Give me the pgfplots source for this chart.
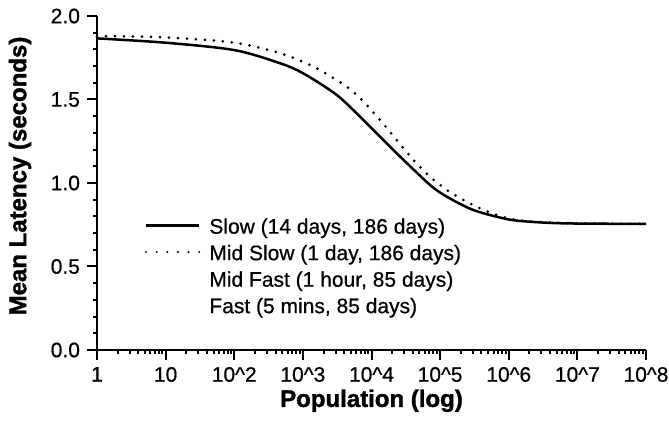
\documentclass[border=0pt]{standalone}
\usepackage{fontspec}
\setmainfont{Liberation Sans}
\newfontfamily\mediumfont[FakeBold=0.6]{Liberation Sans}
\newfontfamily\heavyfont[FakeBold=1.5]{Liberation Sans Bold}
\usepackage{pgfplots}
\pgfplotsset{compat=1.18}

% mean latency against population size
\pgfplotstableread{
pop       lat
1         1.866
10        1.840
100       1.796
466       1.717
1016      1.656
3119      1.527
7621      1.377
13335     1.277
26122     1.158
71450     0.988
125314    0.918
306196    0.838
937562    0.784
2041738   0.768
7079458   0.758
100000000 0.755
}\slowdata

\pgfplotstableread{
pop       lat
1         1.880
10        1.872
100       1.840
466       1.777
1422      1.697
4365      1.577
7621      1.487
13335     1.377
23335     1.257
40832     1.138
71450     1.038
125314    0.958
218776    0.898
382825    0.848
669885    0.808
1174898   0.782
2290868   0.768
10000000  0.758
100000000 0.755
}\midslowdata

\begin{document}
\begin{tikzpicture}
\useasboundingbox (-48.5pt,-36pt) rectangle (286pt,175pt);
\begin{axis}[
  at={(0,0)}, anchor=south west,
  scale only axis,
  width=274.5pt, height=167pt,
  xmode=log,
  xmin=1, xmax=1e8,
  ymin=0, ymax=2,
  axis x line*=bottom,
  axis y line*=left,
  axis line style={line width=1.3pt, black},
  tick align=outside,
  major tick length=5pt,
  minor tick length=2pt,
  every tick/.style={black, line width=1pt},
  xtick={1,10,100,1000,10000,100000,1000000,10000000,100000000},
  xticklabels={1,10,10\textasciicircum2,10\textasciicircum3,10\textasciicircum4,10\textasciicircum5,10\textasciicircum6,10\textasciicircum7,10\textasciicircum8},
  ytick={0,0.5,1,1.5,2},
  minor y tick num=4,
  /pgf/number format/assume math mode=true,
  yticklabel style={/pgf/number format/.cd, fixed, fixed zerofill, precision=1},
  tick label style={font=\fontsize{10.5}{12}\mediumfont},
  xlabel={Population (log)},
  ylabel={Mean Latency (seconds)},
  every axis x label/.style={at={(axis description cs:0.5,-0.152)}, anchor=center,
    font=\fontsize{12}{14}\heavyfont},
  every axis y label/.style={at={(axis description cs:-0.1403,0.521)}, anchor=center, rotate=90,
    font=\fontsize{12}{14}\heavyfont},
  legend cell align=left,
  legend style={draw=none, fill=none, inner sep=0pt, outer sep=0pt,
    at={(rel axis cs:0.0874,0.392)}, anchor=north west,
    row sep=3.75pt, column sep=4.5pt,
    font=\fontsize{10.5}{12}\mediumfont,
    nodes={inner sep=0pt, text height=7.3pt, text depth=2.2pt}},
  legend image code/.code={\draw[#1] (0pt,1.5pt) -- (26.5pt,1.5pt);},
  clip=false,
]
\addlegendimage{black, line width=1.2pt}
\addlegendimage{black, line width=1.1pt, line cap=round, dash pattern=on 0pt off 5.3pt}
\addlegendimage{empty legend}
\addlegendimage{empty legend}

\addplot[forget plot, black, line width=1.25pt, smooth, tension=0.5] table[x=pop, y=lat] {\slowdata};
\addplot[forget plot, black, line width=1.5pt, line cap=round, dash pattern=on 0pt off 4.5pt, smooth, tension=0.5] table[x=pop, y=lat] {\midslowdata};

\legend{{Slow (14 days, 186 days)}, {Mid Slow (1 day, 186 days)}, {Mid Fast (1 hour, 85 days)}, {Fast (5 mins, 85 days)}}
\end{axis}
\end{tikzpicture}
\end{document}
